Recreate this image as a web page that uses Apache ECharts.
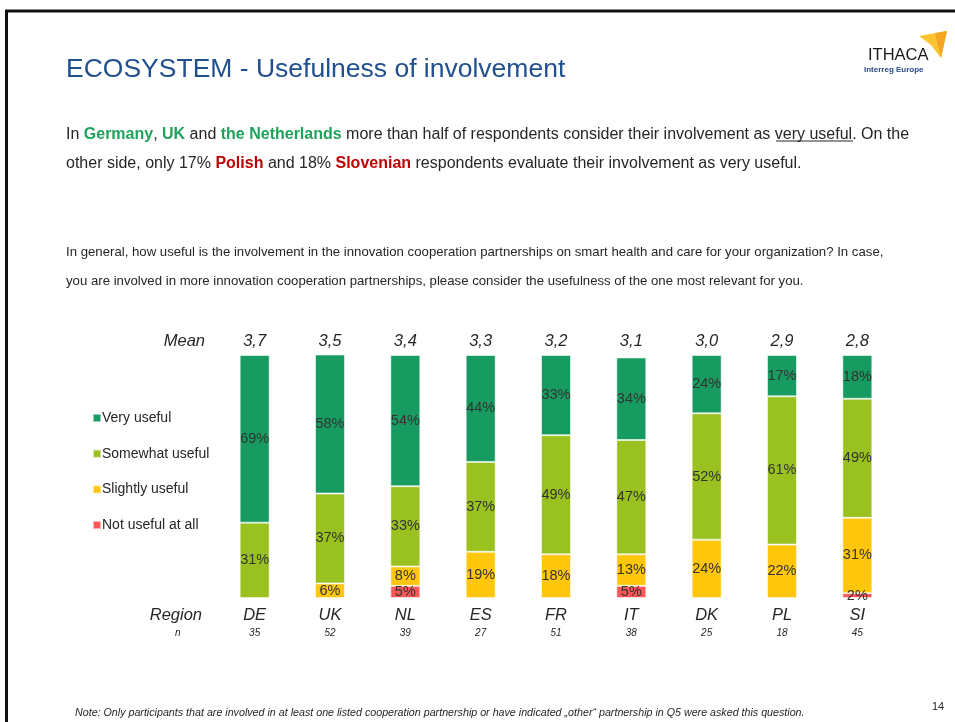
<!DOCTYPE html>
<html>
<head>
<meta charset="utf-8">
<script src="https://cdn.jsdelivr.net/npm/echarts@6/dist/echarts.min.js"></script>
<style>
html, body { margin: 0; padding: 0; background: #fff; }
#chart { width: 955px; height: 722px; }
</style>
</head>
<body>
<div id="chart"></div>
<script>
// chart data
var regions = ['DE', 'UK', 'NL', 'ES', 'FR', 'IT', 'DK', 'PL', 'SI'];
var sampleSizes = ['35', '52', '39', '27', '51', '38', '25', '18', '45'];
var means = ['3,7', '3,5', '3,4', '3,3', '3,2', '3,1', '3,0', '2,9', '2,8'];
var veryUseful = [69, 58, 54, 44, 33, 34, 24, 17, 18];
var somewhatUseful = [31, 37, 33, 37, 49, 47, 52, 61, 49];
var slightlyUseful = [0, 6, 8, 19, 18, 13, 24, 22, 31];
var notUseful = [0, 0, 5, 0, 0, 5, 0, 0, 2];

var FONT = '"Liberation Sans", Arial, sans-serif';
var TXT = '#262626';

function barSeries(name, data, color) {
    return {
        name: name,
        type: 'bar',
        stack: 'total',
        barWidth: 30,
        data: data,
        itemStyle: {
            color: color,
            borderColor: 'rgba(255,255,255,0.55)',
            borderWidth: 1
        },
        label: {
            show: true,
            position: 'inside',
            color: '#333',
            fontFamily: FONT,
            fontSize: 14.5,
            formatter: function (p) {
                return p.value ? p.value + '%' : '';
            }
        }
    };
}

var chart = echarts.init(document.getElementById('chart'));
chart.setOption({
    backgroundColor: '#fff',
    animation: false,
    textStyle: { fontFamily: FONT },
    grid: { left: 217, right: 60, top: 355, bottom: 124 },
    legend: {
        orient: 'vertical',
        left: 87,
        top: 406,
        itemWidth: 8,
        itemHeight: 8,
        itemGap: 21.7,
        icon: 'rect',
        data: ['Very useful', 'Somewhat useful', 'Slightly useful', 'Not useful at all'],
        textStyle: { color: TXT, fontSize: 14, fontFamily: FONT, padding: [0, 0, 0, -4] }
    },
    xAxis: [
        {
            type: 'category',
            data: regions,
            axisLine: { show: false },
            axisTick: { show: false },
            axisLabel: {
                margin: 8,
                formatter: function (v, i) {
                    return '{a|' + v + '}\n{b|' + sampleSizes[i] + '}';
                },
                rich: {
                    a: { fontSize: 16.5, fontStyle: 'italic', color: TXT, lineHeight: 19, fontFamily: FONT },
                    b: { fontSize: 10, fontStyle: 'italic', color: TXT, lineHeight: 17, fontFamily: FONT }
                }
            }
        },
        {
            type: 'category',
            position: 'top',
            data: means,
            axisLine: { show: false },
            axisTick: { show: false },
            axisLabel: {
                margin: 5,
                fontSize: 16.5,
                fontStyle: 'italic',
                color: TXT,
                fontFamily: FONT
            }
        }
    ],
    yAxis: {
        type: 'value',
        min: 0,
        max: 100,
        show: false
    },
    series: [
        barSeries('Not useful at all', notUseful, '#ff5757'),
        barSeries('Slightly useful', slightlyUseful, '#ffc60a'),
        barSeries('Somewhat useful', somewhatUseful, '#99c11f'),
        barSeries('Very useful', veryUseful, '#179b60')
    ],
    graphic: [
        // slide frame
        { type: 'line', shape: { x1: 5, y1: 11, x2: 955, y2: 11 }, style: { stroke: '#111', lineWidth: 3 } },
        { type: 'line', shape: { x1: 6.5, y1: 10, x2: 6.5, y2: 722 }, style: { stroke: '#111', lineWidth: 3 } },
        // title
        { type: 'text', left: 66, top: 56, style: { text: 'ECOSYSTEM - Usefulness of involvement', fill: '#22508f', font: '26.5px ' + FONT } },
        // logo
        { type: 'polygon', shape: { points: [[919, 36], [947, 31], [941, 58], [931, 45]] }, style: { fill: '#fbc531' } },
        { type: 'polygon', shape: { points: [[935, 33], [947, 31], [941, 58], [938, 46]] }, style: { fill: '#f4a623' } },
        { type: 'text', left: 868, top: 47, style: { text: 'ITHACA', fill: '#1a1a1a', font: '16.5px ' + FONT } },
        { type: 'text', left: 864, top: 66, style: { text: 'Interreg Europe', fill: '#2a4b8d', font: 'bold 8px ' + FONT } },
        // summary paragraph
        {
            type: 'text', left: 66, top: 120,
            style: {
                text: 'In {g|Germany}, {g|UK} and {g|the Netherlands} more than half of respondents consider their involvement as very useful. On the\nother side, only 17% {r|Polish} and 18% {r|Slovenian} respondents evaluate their involvement as very useful.',
                fill: TXT,
                font: '16px ' + FONT,
                lineHeight: 29,
                rich: {
                    g: { fill: '#1ea35b', fontWeight: 'bold', fontSize: 16, fontFamily: FONT, lineHeight: 29 },
                    r: { fill: '#c00000', fontWeight: 'bold', fontSize: 16, fontFamily: FONT, lineHeight: 29 }
                }
            }
        },
        { type: 'line', shape: { x1: 776, y1: 141, x2: 853, y2: 141 }, style: { stroke: TXT, lineWidth: 1.2 } },
        // question
        {
            type: 'text', left: 66, top: 238,
            style: {
                text: 'In general, how useful is the involvement in the innovation cooperation partnerships on smart health and care for your organization? In case,\nyou are involved in more innovation cooperation partnerships, please consider the usefulness of the one most relevant for you.',
                fill: TXT,
                font: '13.2px ' + FONT,
                lineHeight: 29
            }
        },
        // row captions
        { type: 'text', right: 750, top: 333, style: { text: 'Mean', fill: TXT, font: 'italic 16.5px ' + FONT, textAlign: 'right' } },
        { type: 'text', right: 753, top: 607, style: { text: 'Region', fill: TXT, font: 'italic 16.5px ' + FONT, textAlign: 'right' } },
        { type: 'text', left: 175, top: 628, style: { text: 'n', fill: TXT, font: 'italic 10px ' + FONT } },
        // footer
        { type: 'text', left: 75, top: 708, style: { text: 'Note: Only participants that are involved in at least one listed cooperation partnership or have indicated \u201eother\u201c partnership in Q5 were asked this question.', fill: TXT, font: 'italic 10.7px ' + FONT } },
        { type: 'text', left: 932, top: 701, style: { text: '14', fill: TXT, font: '11px ' + FONT } }
    ]
});
</script>
</body>
</html>
